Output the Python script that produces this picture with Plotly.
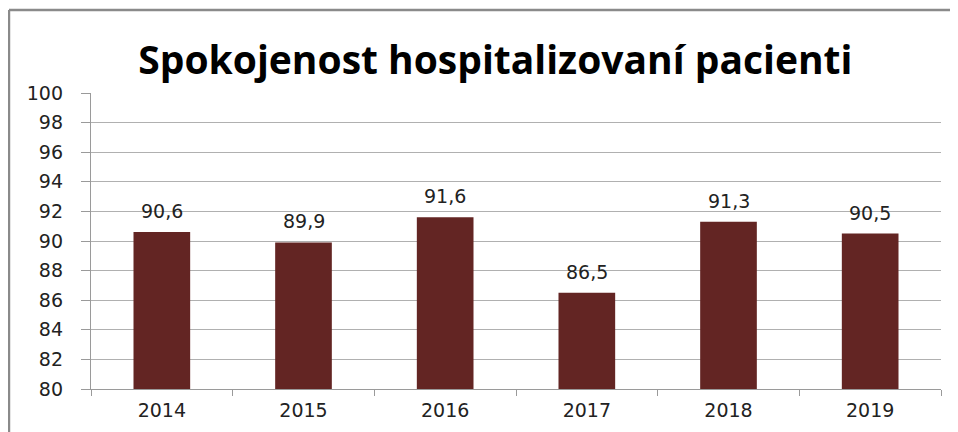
import plotly.graph_objects as go

years = ["2014", "2015", "2016", "2017", "2018", "2019"]
values = [90.6, 89.9, 91.6, 86.5, 91.3, 90.5]
labels = ["90,6", "89,9", "91,6", "86,5", "91,3", "90,5"]
y_ticks = list(range(80, 101, 2))

fig = go.Figure()
fig.add_trace(go.Bar(x=years, y=values, width=0.4,
                     marker=dict(color="#632523", line=dict(width=0)),
                     showlegend=False, hoverinfo="x+y"))

# value labels above bars (category axis -> use index position)
for i, (v, lab) in enumerate(zip(values, labels)):
    fig.add_annotation(x=i, y=v, text=lab, showarrow=False,
                       yanchor="bottom", yshift=8,
                       font=dict(family="DejaVu Sans", size=19, color="#222222"))

# outer chart frame: only the left and top edges are inside the picture
frame = dict(color="#8a8a8a", width=2.5)
fig.add_shape(type="line", xref="paper", yref="paper",
              x0=-0.0965, x1=-0.0965, y0=-0.3, y1=1.2804, line=frame)
fig.add_shape(type="line", xref="paper", yref="paper",
              x0=-0.0965, x1=1.1, y0=1.2804, y1=1.2804, line=frame)

fig.update_layout(
    width=950, height=424,
    margin=dict(l=83, r=17, t=85, b=43, autoexpand=False),
    paper_bgcolor="white", plot_bgcolor="white",
    title=dict(text="<b>Spokojenost hospitalizovaní pacienti</b>",
               x=0.513, xanchor="center", y=0.877, yanchor="middle",
               font=dict(family="Open Sans", size=39, color="#000000")),
    font=dict(family="DejaVu Sans", size=19, color="#222222"),
)
fig.update_yaxes(range=[80, 100], tickvals=y_ticks, showgrid=True,
                 gridcolor="#b0b0b0", gridwidth=1.3, showline=True,
                 linecolor="#9a9a9a", linewidth=1.3, ticks="outside",
                 ticklen=9, tickcolor="#9a9a9a", zeroline=False,
                 ticklabelstandoff=14,
                 tickfont=dict(size=19), automargin=False)
fig.update_xaxes(type="category", showline=True, linecolor="#9a9a9a",
                 linewidth=1.3, ticks="outside", tickson="boundaries",
                 ticklen=6, tickcolor="#9a9a9a", showgrid=False,
                 ticklabelstandoff=4,
                 tickfont=dict(size=19), tickangle=0, automargin=False)

fig.write_html("out.html")
